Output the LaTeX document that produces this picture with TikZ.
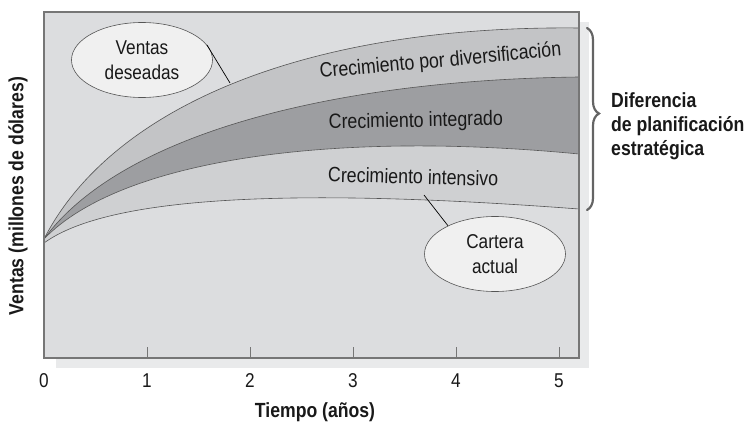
\documentclass[tikz,border=0pt]{standalone}
\usepackage{fontspec}
\setmainfont{Liberation Sans}[FakeStretch=0.86]
\usetikzlibrary{shapes.geometric,decorations.pathreplacing}
\definecolor{plotbg}{RGB}{220,221,223}
\definecolor{shadowc}{RGB}{233,234,235}
\definecolor{bandA}{RGB}{195,196,198}
\definecolor{bandB}{RGB}{157,158,161}
\definecolor{bandC}{RGB}{207,208,210}
\definecolor{ellfill}{RGB}{240,240,240}
\definecolor{linec}{RGB}{85,85,85}
\definecolor{framec}{RGB}{118,118,118}
\definecolor{bracec}{RGB}{100,100,100}
\definecolor{txt}{RGB}{25,25,25}
\tikzset{
  curve/.style={draw=linec, line width=0.6pt},
  bubble/.style={ellipse, draw=linec, line width=0.6pt, fill=ellfill, minimum width=141pt, minimum height=75pt, inner sep=0pt, align=center, text=txt, font=\fontsize{20}{25}\selectfont},
  bandlabel/.style={anchor=base, text=txt, font=\fontsize{20.7}{24}\selectfont, inner sep=0pt},
  ticklabel/.style={anchor=base, text=txt, font=\fontsize{20}{24}\selectfont, inner sep=0pt},
  boldlabel/.style={text=txt, font=\bfseries\fontsize{20.5}{24}\selectfont, inner sep=0pt},
  tickmark/.style={draw=framec, line width=0.8pt},
  leader/.style={draw=black, line width=0.7pt}
}
\begin{document}
\begin{tikzpicture}[x=1pt,y=-1pt]
\useasboundingbox (0,0) rectangle (750,422);
% shadow and plot area
\fill[shadowc] (56,22) rectangle (589,368);
\fill[plotbg] (44,12) rectangle (579,358);
% bands
\fill[bandA] (44,239) .. controls (110,110) and (300,25) .. (579,28) -- (579,77) .. controls (330,80) and (120,135) .. (44,239) -- cycle;
\fill[bandB] (44,239) .. controls (120,135) and (330,80) .. (579,77) -- (579,154) .. controls (330,130) and (120,160) .. (44,239) -- cycle;
\fill[bandC] (44,239) .. controls (120,160) and (330,130) .. (579,154) -- (579,209) .. controls (300,188) and (110,195) .. (44,243) -- cycle;
% curves
\draw[curve] (44,239) .. controls (110,110) and (300,25) .. (579,28);
\draw[curve] (44,239) .. controls (120,135) and (330,80) .. (579,77);
\draw[curve] (44,239) .. controls (120,160) and (330,130) .. (579,154);
\draw[curve] (44,243) .. controls (110,195) and (300,188) .. (579,209);
% frame
\draw[draw=framec, line width=1.3pt] (44,12) rectangle (579,358);
% ticks
\foreach \i/\xx in {1/147,2/250,3/353,4/456,5/559}{
  \draw[tickmark] (\xx,358) -- (\xx,347);
}
\foreach \i/\xx in {0/44,1/147,2/250,3/353,4/456,5/559}{
  \node[ticklabel] (t\i) at (\xx,387) {\i};
}
% band labels
\node[bandlabel, rotate=5.2] (ldiv) at (441,67) {Crecimiento por diversificación};
\node[bandlabel, rotate=1.2] (lint) at (416,127) {Crecimiento integrado};
\node[bandlabel, rotate=-1.5] (lins) at (413,184) {Crecimiento intensivo};
% bubbles
\node[bubble] (ventas) at (142,60) {Ventas\\deseadas};
\node[bubble] (cartera) at (495,254) {Cartera\\actual};
\coordinate (vd) at (230,83);
\coordinate (cd) at (424,195);
\draw[leader] (ventas.13) -- (vd);
\draw[leader] (cartera.149) -- (cd);
% brace
\coordinate (bt) at (587,28);
\coordinate (bb) at (587,210);
\draw[draw=bracec, line width=2.2pt, line cap=round, decorate, decoration={brace, amplitude=12pt, aspect=0.47}] (bt) -- (bb);
\node[boldlabel, anchor=base west, align=left] (dif) at (611,156) {Diferencia\\de planificación\\estratégica};
% axis titles
\node[boldlabel, anchor=base] (xlab) at (315,417) {Tiempo (años)};
\node[boldlabel, rotate=90] (ylab) at (18,196) {Ventas (millones de dólares)};
\end{tikzpicture}
\end{document}
